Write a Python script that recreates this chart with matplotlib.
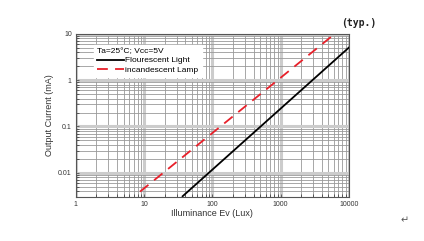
import matplotlib
matplotlib.use("Agg")
from matplotlib import pyplot as plt
from matplotlib.ticker import LogLocator, NullFormatter, FixedLocator

plt.rcParams['font.family'] = ['Liberation Sans', 'DejaVu Sans']

fl_lux = [36.6, 10000]
fl_ma = [0.0031, 5.1]
inc_lux = [8.7, 5960]
inc_ma = [0.0039, 9.6]

x_ticks = [1, 10, 100, 1000, 10000]
x_labels = ["1", "10", "100", "1000", "10000"]
y_ticks = [0.01, 0.1, 1, 10]
y_labels = ["0.01", "0.1", "1", "10"]

fig = plt.figure(figsize=(4.24, 2.41), dpi=100)
ax = fig.add_axes([0.179, 0.183, 0.644, 0.676])

ax.set_xscale("log")
ax.set_yscale("log")
ax.set_xlim(1, 10000)
ax.set_ylim(0.003, 10)

ax.plot(fl_lux, fl_ma, color="black", lw=1.3, label="Flourescent Light", zorder=3)
ax.plot(inc_lux, inc_ma, color="#e8202a", lw=1.3, ls=(0, (6, 4)),
        label="incandescent Lamp", zorder=3)

ax.xaxis.set_major_locator(FixedLocator(x_ticks))
ax.set_xticklabels(x_labels)
ax.yaxis.set_major_locator(FixedLocator(y_ticks))
ax.set_yticklabels(y_labels)
ax.xaxis.set_minor_locator(LogLocator(base=10, subs=range(2, 10)))
ax.yaxis.set_minor_locator(LogLocator(base=10, subs=range(2, 10)))
ax.xaxis.set_minor_formatter(NullFormatter())
ax.yaxis.set_minor_formatter(NullFormatter())

ax.grid(True, which="major", color="#cccccc", lw=2.2, zorder=0)
ax.grid(True, which="minor", color="#999999", lw=0.6, zorder=0)
ax.tick_params(which="both", direction="in", length=2, width=0.5,
               labelsize=5, colors="#333333", pad=3)
for s in ax.spines.values():
    s.set_color("#555555")
    s.set_linewidth(0.8)

ax.set_xlabel("Illuminance Ev (Lux)", fontsize=6.5, color="#333333", labelpad=1)
ax.set_ylabel("Output Current (mA)", fontsize=6.5, color="#333333", labelpad=3)

leg = ax.legend(loc="upper left", title="Ta=25\u00b0C; Vcc=5V", fontsize=6,
                title_fontsize=6, frameon=True, fancybox=False,
                handlelength=3.2, handletextpad=0.2, labelspacing=0.2,
                borderpad=0.4, bbox_to_anchor=(0.05, 0.96))
leg.get_frame().set_edgecolor("white")
leg.get_frame().set_facecolor("white")
leg.get_frame().set_alpha(1)
leg._legend_box.align = "left"

fig.text(0.805, 0.905, "(typ.)", fontsize=7, family="DejaVu Sans Mono",
         weight="bold", color="#222222", va="center")
fig.text(0.945, 0.087, "\u21b5", fontsize=7, color="#555555",
         family="DejaVu Sans", va="center")

fig.savefig("out.png", dpi=100)
